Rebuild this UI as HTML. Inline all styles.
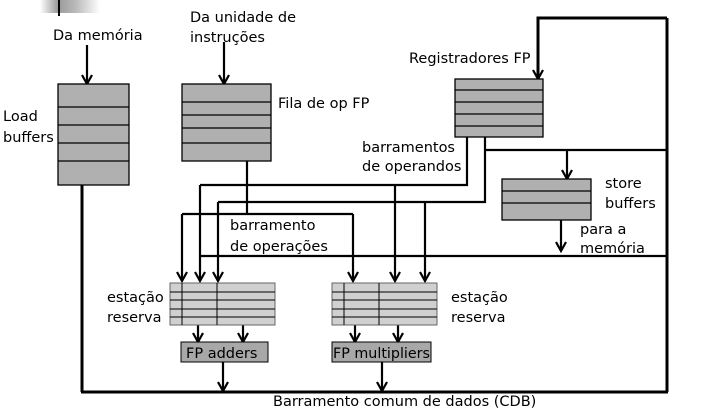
<!DOCTYPE html>
<html><head><meta charset="utf-8"><style>
html,body{margin:0;padding:0;background:#fff;}
svg{display:block;}
text{font-family:"DejaVu Sans","Liberation Sans",sans-serif;font-size:14.5px;fill:#000;}
</style></head><body>
<svg width="705" height="409" viewBox="0 0 705 409" xmlns="http://www.w3.org/2000/svg">
<defs>
<linearGradient id="g" x1="0" x2="1"><stop offset="0" stop-color="#fff"/><stop offset="0.3" stop-color="#999"/><stop offset="0.6" stop-color="#bbb"/><stop offset="1" stop-color="#fff"/></linearGradient>
<marker id="a" markerWidth="12" markerHeight="12" refX="10" refY="6" orient="auto" markerUnits="userSpaceOnUse" viewBox="0 0 12 12"><path d="M1,1 L10,6 L1,11" fill="none" stroke="#000" stroke-width="2.2"/></marker>
</defs>
<rect x="40" y="0" width="60" height="13" fill="url(#g)"/>
<line x1="59" y1="0" x2="59" y2="16" stroke="#000" stroke-width="2"/>
<g stroke="#000" stroke-width="2.2" fill="none">
<line x1="87" y1="45" x2="87" y2="84" marker-end="url(#a)"/>
<line x1="224" y1="42" x2="224" y2="84" marker-end="url(#a)"/>
<line x1="82" y1="185" x2="82" y2="392" stroke-width="3"/>
<line x1="81" y1="392" x2="668" y2="392" stroke-width="3"/>
<line x1="667" y1="18" x2="667" y2="392" stroke-width="3"/>
<polyline points="667,18 538,18 538,60" stroke-width="3"/>
<line x1="538" y1="58" x2="538" y2="79" stroke-width="3" marker-end="url(#a)"/>
<line x1="247" y1="161" x2="247" y2="214"/>
<line x1="182" y1="214" x2="353" y2="214"/>
<line x1="182" y1="214" x2="182" y2="281" marker-end="url(#a)"/>
<line x1="353" y1="214" x2="353" y2="281" marker-end="url(#a)"/>
<polyline points="467,137 467,185 200,185"/>
<line x1="200" y1="185" x2="200" y2="281" marker-end="url(#a)"/>
<line x1="395" y1="185" x2="395" y2="281" marker-end="url(#a)"/>
<polyline points="485,137 485,202 218,202"/>
<line x1="218" y1="202" x2="218" y2="281" marker-end="url(#a)"/>
<line x1="425" y1="202" x2="425" y2="281" marker-end="url(#a)"/>
<line x1="485" y1="150" x2="667" y2="150"/>
<line x1="567" y1="150" x2="567" y2="179" marker-end="url(#a)"/>
<line x1="561" y1="220" x2="561" y2="251" marker-end="url(#a)"/>
<line x1="200" y1="256" x2="667" y2="256"/>
<line x1="198" y1="325" x2="198" y2="342" marker-end="url(#a)"/>
<line x1="243" y1="325" x2="243" y2="342" marker-end="url(#a)"/>
<line x1="355" y1="325" x2="355" y2="342" marker-end="url(#a)"/>
<line x1="398" y1="325" x2="398" y2="342" marker-end="url(#a)"/>
<line x1="223" y1="362" x2="223" y2="391" marker-end="url(#a)"/>
<line x1="382" y1="362" x2="382" y2="391" marker-end="url(#a)"/>
</g>
<g stroke="#000" stroke-width="1.3">
<rect x="58" y="84" width="71" height="101" fill="#b0b0b0"/>
<line x1="58" y1="107" x2="129" y2="107"/><line x1="58" y1="125" x2="129" y2="125"/><line x1="58" y1="143" x2="129" y2="143"/><line x1="58" y1="161" x2="129" y2="161"/>
<rect x="182" y="84" width="89" height="77" fill="#b0b0b0"/>
<line x1="182" y1="102" x2="271" y2="102"/><line x1="182" y1="115" x2="271" y2="115"/><line x1="182" y1="128" x2="271" y2="128"/><line x1="182" y1="143" x2="271" y2="143"/>
<rect x="455" y="79" width="88" height="58" fill="#b0b0b0"/>
<line x1="455" y1="90" x2="543" y2="90"/><line x1="455" y1="102" x2="543" y2="102"/><line x1="455" y1="114" x2="543" y2="114"/><line x1="455" y1="126" x2="543" y2="126"/>
<rect x="502" y="179" width="89" height="41" fill="#b0b0b0"/>
<line x1="502" y1="191" x2="591" y2="191"/><line x1="502" y1="203" x2="591" y2="203"/>
</g>
<g stroke="#000" stroke-width="1">
<rect x="170" y="283" width="105" height="42" fill="#d0d0d0" stroke="#666"/>
<line x1="170" y1="292" x2="275" y2="292"/><line x1="170" y1="300" x2="275" y2="300"/><line x1="170" y1="309" x2="275" y2="309"/><line x1="170" y1="317" x2="275" y2="317"/>
<line x1="182" y1="283" x2="182" y2="325"/><line x1="217" y1="283" x2="217" y2="325"/>
<rect x="332" y="283" width="105" height="42" fill="#d0d0d0" stroke="#666"/>
<line x1="332" y1="292" x2="437" y2="292"/><line x1="332" y1="300" x2="437" y2="300"/><line x1="332" y1="309" x2="437" y2="309"/><line x1="332" y1="317" x2="437" y2="317"/>
<line x1="344" y1="283" x2="344" y2="325"/><line x1="379" y1="283" x2="379" y2="325"/>
<rect x="181" y="342" width="87" height="20" fill="#a8a8a8"/>
<rect x="332" y="342" width="99" height="20" fill="#a8a8a8"/>
</g>
<text x="53" y="40">Da memória</text>
<text x="190" y="22">Da unidade de</text>
<text x="190" y="42">instruções</text>
<text x="3" y="121">Load</text>
<text x="3" y="142">buffers</text>
<text x="278" y="108">Fila de op FP</text>
<text x="409" y="63">Registradores FP</text>
<text x="362" y="152">barramentos</text>
<text x="362" y="171">de operandos</text>
<text x="605" y="188">store</text>
<text x="605" y="208">buffers</text>
<text x="580" y="234">para a</text>
<text x="580" y="253">memória</text>
<text x="230" y="230">barramento</text>
<text x="230" y="251">de operações</text>
<text x="107" y="302">estação</text>
<text x="107" y="322">reserva</text>
<text x="451" y="302">estação</text>
<text x="451" y="322">reserva</text>
<text x="186" y="358">FP adders</text>
<text x="333" y="358" textLength="97" lengthAdjust="spacingAndGlyphs">FP multipliers</text>
<text x="273" y="406">Barramento comum de dados (CDB)</text>
</svg>
</body></html>
